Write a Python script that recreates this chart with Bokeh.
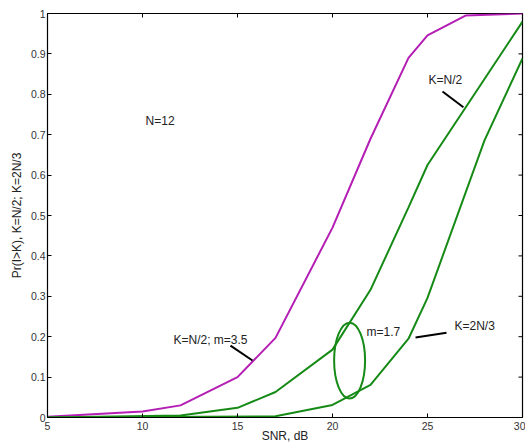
import math
from bokeh.plotting import figure
from bokeh.models import FixedTicker, Range1d, Label
from bokeh.embed import file_html
from bokeh.resources import INLINE

# ---- data ----
snr_m35 = [5, 10, 12, 15, 17, 20, 22, 24, 25, 27, 30]
p_m35 = [0.002, 0.015, 0.03, 0.10, 0.197, 0.47, 0.69, 0.89, 0.946, 0.995, 1.0]

snr_half = [5, 12, 15, 17, 20, 22, 24, 25, 30]
p_half = [0.0, 0.005, 0.024, 0.063, 0.168, 0.316, 0.52, 0.625, 0.98]

snr_two = [5, 17, 20, 22, 24, 25, 28, 30]
p_two = [0.0, 0.003, 0.031, 0.081, 0.195, 0.296, 0.686, 0.889]

x_ticks = [5, 10, 15, 20, 25, 30]
y_ticks = [0, 0.1, 0.2, 0.3, 0.4, 0.5, 0.6, 0.7, 0.8, 0.9, 1.0]
y_tick_labels = ["0", "0.1", "0.2", "0.3", "0.4", "0.5", "0.6", "0.7", "0.8", "0.9", "1"]

MAG = "#b41eb4"
GRN = "#168a16"
FONT = "Liberation Sans"

p = figure(width=525, height=445, output_backend="svg", toolbar_location=None,
           x_range=Range1d(5, 30), y_range=Range1d(0, 1),
           min_border_left=47, min_border_right=3, min_border_top=13, min_border_bottom=27,
           x_axis_label="SNR, dB", y_axis_label="Pr(I>K), K=N/2; K=2N/3")
p.grid.visible = False
p.outline_line_color = "black"
p.outline_line_width = 1.2
p.background_fill_color = "white"
p.border_fill_color = "white"

for ax in (p.xaxis[0], p.yaxis[0]):
    ax.major_tick_in = 4
    ax.major_tick_out = 0
    ax.minor_tick_line_color = None
    ax.axis_line_color = "black"
    ax.major_label_text_font = FONT
    ax.major_label_text_font_size = "10.5px"
    ax.major_label_text_color = "#333333"
    ax.axis_label_text_font = FONT
    ax.axis_label_text_font_size = "12px"
    ax.axis_label_text_font_style = "normal"
    ax.axis_label_text_color = "#222222"
    ax.major_label_standoff = 2
    ax.axis_label_standoff = 0

p.xaxis[0].ticker = FixedTicker(ticks=x_ticks)
p.xaxis[0].major_label_standoff = 4
p.xaxis[0].axis_label_standoff = -4
p.yaxis[0].ticker = FixedTicker(ticks=y_ticks)
p.yaxis[0].major_label_overrides = {t: l for t, l in zip(y_ticks, y_tick_labels)}
p.yaxis[0].axis_label_standoff = 4

# inward ticks on top and right edges of the box
p.ray(x=x_ticks, y=[1.0] * len(x_ticks), length=4, length_units="screen",
      angle=-math.pi / 2, line_color="black", line_width=1)
p.ray(x=[30.0] * len(y_ticks), y=y_ticks, length=4, length_units="screen",
      angle=math.pi, line_color="black", line_width=1)

# curves
p.line(snr_m35, p_m35, line_color=MAG, line_width=2)
p.line(snr_half, p_half, line_color=GRN, line_width=2)
p.line(snr_two, p_two, line_color=GRN, line_width=2)

# ellipse marking m=1.7
p.ellipse(x=[20.9], y=[0.141], width=1.63, height=0.188, fill_color=None,
          line_color=GRN, line_width=2)

# pointer lines
p.segment(x0=[25.79, 14.63, 24.37], y0=[0.807, 0.178, 0.198],
          x1=[26.89, 15.79, 26.0], y1=[0.768, 0.141, 0.210],
          line_color="black", line_width=2)

def lab(x, y, t):
    p.add_layout(Label(x=x, y=y, text=t, text_font=FONT, text_font_size="12px",
                       text_color="#222222", text_baseline="middle", text_align="left"))

lab(10.16, 0.733, "N=12")
lab(25.05, 0.835, "K=N/2")
lab(11.63, 0.193, "K=N/2; m=3.5")
lab(21.79, 0.212, "m=1.7")
lab(26.42, 0.227, "K=2N/3")

open("out.html", "w").write(file_html(p, INLINE))
